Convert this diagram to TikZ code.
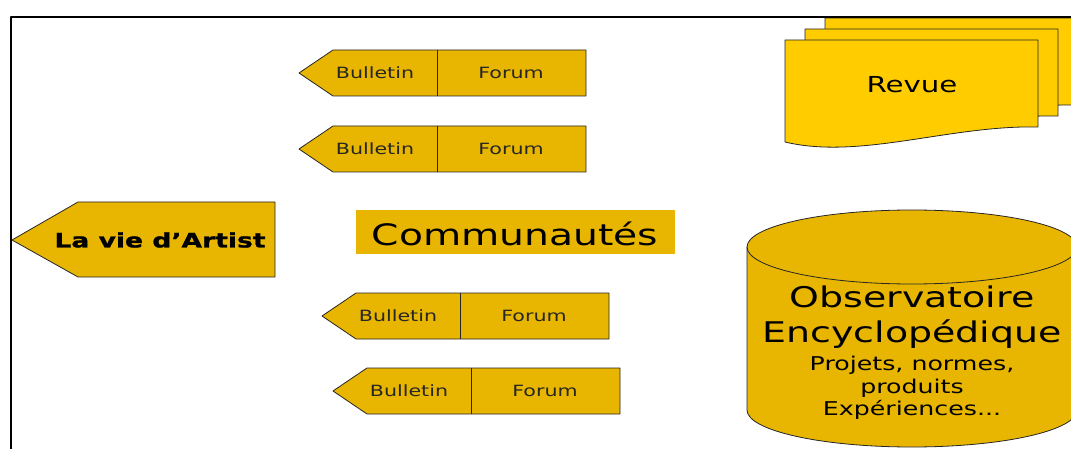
\documentclass[tikz,border=0pt]{standalone}
\usepackage{fontspec}
\setmainfont[FakeStretch=1.33, BoldFeatures={FakeBold=1.2}]{DejaVu Sans}
\usepackage{tikz}
\usepackage{color}
\definecolor{gold}{RGB}{232,182,0}
\definecolor{jaune}{RGB}{255,204,0}

\begin{document}
\begin{tikzpicture}
[x=1pt, y=-1pt, line join=round,
 tag/.style={fill=gold, draw=black!85, line width=0.8pt},
 page/.style={fill=jaune, draw=black!85, line width=0.8pt},
 small/.style={font=\fontsize{15.5}{18}\selectfont, text=black!85},
 mid/.style={font=\fontsize{19}{22}\selectfont},
 big/.style={font=\fontsize{28.5}{33}\selectfont}]
\useasboundingbox (0,0) rectangle (1071,449);
\clip (0,0) rectangle (1071,449);
\filldraw[tag] (299,73)--(333,50)--(586,50)--(586,96)--(333,96)--cycle; \draw[tag] (437,50)--(437,96);
\filldraw[tag] (299,149)--(333,126)--(586,126)--(586,172)--(333,172)--cycle; \draw[tag] (437,126)--(437,172);
\filldraw[tag] (322,316)--(356,293)--(609,293)--(609,339)--(356,339)--cycle; \draw[tag] (460,293)--(460,339);
\filldraw[tag] (333,391)--(367,368)--(620,368)--(620,414)--(367,414)--cycle; \draw[tag] (471,368)--(471,414);
\node (bul1) at (375,73) [small] {Bulletin}; \node (for1) at (511,73) [small] {Forum};
\node (bul2) at (375,149) [small] {Bulletin}; \node (for2) at (511,149) [small] {Forum};
\node (bul3) at (398,316) [small] {Bulletin}; \node (for3) at (534,316) [small] {Forum};
\node (bul4) at (409,391) [small] {Bulletin}; \node (for4) at (545,391) [small] {Forum};
\filldraw[tag] (12,240)--(78,202)--(275,202)--(275,277)--(78,277)--cycle;
\node (artist) at (160,240) [font=\fontsize{20}{24}\bfseries] {La vie d’Artist};
\fill[gold] (356,210) rectangle (675,254);
\node (comm) at (515,245) [anchor=base, font=\fontsize{29.5}{34}\selectfont] {Communautés};
\filldraw[page] (825,18)--(1078,18)--(1078,105) .. controls (990,103) and (900,138) .. (825,120)--cycle;
\filldraw[page] (805,29)--(1058,29)--(1058,116) .. controls (970,114) and (880,149) .. (805,131)--cycle;
\filldraw[page] (785,40)--(1038,40)--(1038,127) .. controls (950,125) and (860,160) .. (785,142)--cycle;
\node (revue) at (912,85) [font=\fontsize{22}{26}\selectfont] {Revue};
\filldraw[tag] (747,247)--(747,410) arc (180:0:165 and 37)--(1077,247) arc (0:-180:165 and 37)--cycle;
\draw[tag, fill=none] (747,247) arc (180:0:165 and 37);
\node (obs) at (912,307) [anchor=base, big] {Observatoire};
\node (enc) at (912,342) [anchor=base, big] {Encyclopédique};
\node (proj) at (912,370) [anchor=base, mid] {Projets, normes,};
\node (prod) at (912,393) [anchor=base, mid] {produits};
\node (exp) at (912,415) [anchor=base, mid] {Expériences...};
\draw[line width=2pt] (11,449)--(11,17)--(1071,17);
\end{tikzpicture}
\end{document}
